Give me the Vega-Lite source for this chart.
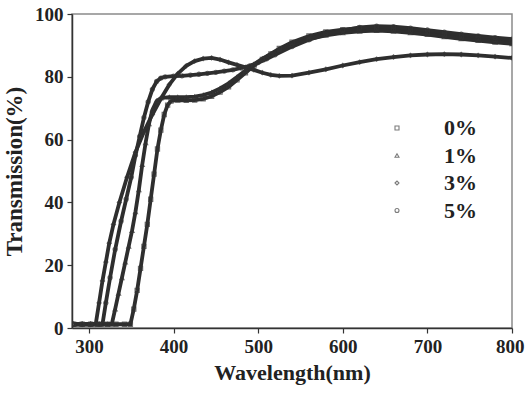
{
  "$schema": "https://vega.github.io/schema/vega-lite/v6.json",
  "autosize": {"type": "none"},
  "width": 440,
  "height": 314,
  "padding": {"left": 72, "top": 14, "right": 13, "bottom": 66},
  "background": "white",
  "config": {
    "view": {"stroke": "#8a8a8a", "strokeWidth": 1.5},
    "axis": {
      "labelFont": "Liberation Serif", "labelFontWeight": "bold", "labelColor": "#222",
      "titleFont": "Liberation Serif", "titleFontWeight": "bold", "titleColor": "#222",
      "domainColor": "#333", "domainWidth": 1.5, "tickColor": "#333", "tickWidth": 1.2, "tickSize": 5,
      "grid": false
    }
  },
  "data": {"values": [
    {"s":"0%","wl":282,"t":1.2},{"s":"0%","wl":292,"t":1.2},{"s":"0%","wl":302,"t":1.2},{"s":"0%","wl":312,"t":1.2},{"s":"0%","wl":322,"t":1.2},{"s":"0%","wl":332,"t":1.2},{"s":"0%","wl":342,"t":1.2},{"s":"0%","wl":349,"t":1.2},
    {"s":"0%","wl":353,"t":6},{"s":"0%","wl":357,"t":12},{"s":"0%","wl":361,"t":19},{"s":"0%","wl":365,"t":26},{"s":"0%","wl":369,"t":33},{"s":"0%","wl":373,"t":41},{"s":"0%","wl":377,"t":49},{"s":"0%","wl":381,"t":57},{"s":"0%","wl":385,"t":63},{"s":"0%","wl":389,"t":68},{"s":"0%","wl":393,"t":71},{"s":"0%","wl":397,"t":72.3},{"s":"0%","wl":405,"t":72.6},{"s":"0%","wl":415,"t":72.5},{"s":"0%","wl":425,"t":72.6},{"s":"0%","wl":435,"t":73},{"s":"0%","wl":445,"t":73.8},{"s":"0%","wl":455,"t":75.1},{"s":"0%","wl":465,"t":76.8},{"s":"0%","wl":475,"t":79},{"s":"0%","wl":485,"t":81.3},{"s":"0%","wl":495,"t":83.5},{"s":"0%","wl":505,"t":85.5},{"s":"0%","wl":515,"t":87.3},{"s":"0%","wl":525,"t":89},{"s":"0%","wl":540,"t":91},{"s":"0%","wl":560,"t":93},{"s":"0%","wl":580,"t":94.3},{"s":"0%","wl":600,"t":95},{"s":"0%","wl":620,"t":95.5},{"s":"0%","wl":640,"t":95.5},{"s":"0%","wl":660,"t":95.2},{"s":"0%","wl":680,"t":94.6},{"s":"0%","wl":700,"t":94},{"s":"0%","wl":720,"t":93.3},{"s":"0%","wl":740,"t":92.7},{"s":"0%","wl":760,"t":92.2},{"s":"0%","wl":780,"t":91.8},{"s":"0%","wl":800,"t":91.4},

    {"s":"1%","wl":282,"t":1.2},{"s":"1%","wl":292,"t":1.2},{"s":"1%","wl":302,"t":1.2},{"s":"1%","wl":312,"t":1.2},{"s":"1%","wl":322,"t":1.2},{"s":"1%","wl":327,"t":1.2},
    {"s":"1%","wl":331,"t":6},{"s":"1%","wl":335,"t":11},{"s":"1%","wl":339,"t":16},{"s":"1%","wl":343,"t":21},{"s":"1%","wl":347,"t":26},{"s":"1%","wl":351,"t":31},{"s":"1%","wl":355,"t":37},{"s":"1%","wl":359,"t":44},{"s":"1%","wl":363,"t":52},{"s":"1%","wl":367,"t":59},{"s":"1%","wl":371,"t":65},{"s":"1%","wl":375,"t":69.5},{"s":"1%","wl":380,"t":72.3},{"s":"1%","wl":385,"t":73.2},{"s":"1%","wl":395,"t":73.5},{"s":"1%","wl":405,"t":73.5},{"s":"1%","wl":415,"t":73.5},{"s":"1%","wl":425,"t":73.7},{"s":"1%","wl":435,"t":74.2},{"s":"1%","wl":445,"t":75},{"s":"1%","wl":455,"t":76.3},{"s":"1%","wl":465,"t":77.9},{"s":"1%","wl":475,"t":79.9},{"s":"1%","wl":485,"t":82},{"s":"1%","wl":495,"t":84},{"s":"1%","wl":505,"t":85.8},{"s":"1%","wl":515,"t":87.3},{"s":"1%","wl":525,"t":88.6},{"s":"1%","wl":540,"t":90.2},{"s":"1%","wl":560,"t":92},{"s":"1%","wl":580,"t":93.2},{"s":"1%","wl":600,"t":94},{"s":"1%","wl":620,"t":94.5},{"s":"1%","wl":640,"t":94.7},{"s":"1%","wl":660,"t":94.5},{"s":"1%","wl":680,"t":94},{"s":"1%","wl":700,"t":93.4},{"s":"1%","wl":720,"t":92.7},{"s":"1%","wl":740,"t":92.1},{"s":"1%","wl":760,"t":91.5},{"s":"1%","wl":780,"t":91},{"s":"1%","wl":800,"t":90.5},

    {"s":"3%","wl":282,"t":1.2},{"s":"3%","wl":292,"t":1.2},{"s":"3%","wl":302,"t":1.2},{"s":"3%","wl":308,"t":1.2},
    {"s":"3%","wl":312,"t":8},{"s":"3%","wl":316,"t":15},{"s":"3%","wl":320,"t":21},{"s":"3%","wl":324,"t":27},{"s":"3%","wl":329,"t":33},{"s":"3%","wl":336,"t":40},{"s":"3%","wl":345,"t":48},{"s":"3%","wl":355,"t":56},{"s":"3%","wl":365,"t":62.5},{"s":"3%","wl":375,"t":68},{"s":"3%","wl":385,"t":73},{"s":"3%","wl":395,"t":77.5},{"s":"3%","wl":405,"t":81},{"s":"3%","wl":415,"t":83.5},{"s":"3%","wl":425,"t":85},{"s":"3%","wl":435,"t":85.8},{"s":"3%","wl":445,"t":86},{"s":"3%","wl":455,"t":85.5},{"s":"3%","wl":465,"t":84.6},{"s":"3%","wl":475,"t":83.8},{"s":"3%","wl":485,"t":83},{"s":"3%","wl":495,"t":82.2},{"s":"3%","wl":505,"t":81.3},{"s":"3%","wl":515,"t":80.6},{"s":"3%","wl":525,"t":80.3},{"s":"3%","wl":540,"t":80.4},{"s":"3%","wl":560,"t":81.3},{"s":"3%","wl":580,"t":82.4},{"s":"3%","wl":600,"t":83.6},{"s":"3%","wl":620,"t":84.7},{"s":"3%","wl":640,"t":85.6},{"s":"3%","wl":660,"t":86.3},{"s":"3%","wl":680,"t":86.8},{"s":"3%","wl":700,"t":87.1},{"s":"3%","wl":720,"t":87.2},{"s":"3%","wl":740,"t":87.1},{"s":"3%","wl":760,"t":86.8},{"s":"3%","wl":780,"t":86.4},{"s":"3%","wl":800,"t":86},

    {"s":"5%","wl":282,"t":1.2},{"s":"5%","wl":292,"t":1.2},{"s":"5%","wl":302,"t":1.2},{"s":"5%","wl":312,"t":1.2},{"s":"5%","wl":316,"t":1.2},
    {"s":"5%","wl":320,"t":8},{"s":"5%","wl":325,"t":16},{"s":"5%","wl":331,"t":25},{"s":"5%","wl":338,"t":34},{"s":"5%","wl":344,"t":41},{"s":"5%","wl":350,"t":48},{"s":"5%","wl":355,"t":55},{"s":"5%","wl":360,"t":61},{"s":"5%","wl":365,"t":67},{"s":"5%","wl":370,"t":72},{"s":"5%","wl":375,"t":76},{"s":"5%","wl":380,"t":78.5},{"s":"5%","wl":385,"t":79.6},{"s":"5%","wl":390,"t":80},{"s":"5%","wl":400,"t":80.2},{"s":"5%","wl":410,"t":80.3},{"s":"5%","wl":420,"t":80.5},{"s":"5%","wl":430,"t":80.8},{"s":"5%","wl":440,"t":81.1},{"s":"5%","wl":450,"t":81.4},{"s":"5%","wl":460,"t":81.8},{"s":"5%","wl":470,"t":82.2},{"s":"5%","wl":480,"t":82.8},{"s":"5%","wl":490,"t":83.5},{"s":"5%","wl":500,"t":84.5},{"s":"5%","wl":510,"t":85.7},{"s":"5%","wl":520,"t":87},{"s":"5%","wl":540,"t":89.6},{"s":"5%","wl":560,"t":91.8},{"s":"5%","wl":580,"t":93.5},{"s":"5%","wl":600,"t":94.8},{"s":"5%","wl":620,"t":95.7},{"s":"5%","wl":640,"t":96.1},{"s":"5%","wl":660,"t":96},{"s":"5%","wl":680,"t":95.5},{"s":"5%","wl":700,"t":94.9},{"s":"5%","wl":720,"t":94.2},{"s":"5%","wl":740,"t":93.6},{"s":"5%","wl":760,"t":93},{"s":"5%","wl":780,"t":92.5},{"s":"5%","wl":800,"t":92}
  ]},
  "encoding": {
    "x": {"field": "wl", "type": "quantitative",
      "scale": {"domain": [280, 800], "nice": false, "zero": false},
      "axis": {"values": [300, 400, 500, 600, 700, 800], "title": "Wavelength(nm)", "labelFontSize": 19, "titleFontSize": 22, "labelPadding": 4, "titlePadding": 6, "labelFlush": true, "labelFlushOffset": 12}},
    "y": {"field": "t", "type": "quantitative",
      "scale": {"domain": [0, 100], "nice": false},
      "axis": {"values": [0, 20, 40, 60, 80, 100], "title": "Transmission(%)", "labelFontSize": 19, "titleFontSize": 23, "labelPadding": 4, "titlePadding": 8}}
  },
  "layer": [
    {
      "mark": {"type": "line", "color": "#2e2e2e", "strokeWidth": 3.8, "clip": true},
      "encoding": {"detail": {"field": "s", "type": "nominal"}}
    },
    {
      "mark": {"type": "point", "filled": false, "color": "#333", "strokeWidth": 1.1, "size": 18, "clip": true},
      "encoding": {
        "shape": {"field": "s", "type": "nominal",
          "scale": {"domain": ["0%", "1%", "3%", "5%"], "range": ["square", "triangle-up", "diamond", "circle"]},
          "legend": {"orient": "none", "legendX": 314, "legendY": 103, "title": null,
            "labelFont": "Liberation Serif", "labelFontWeight": "bold", "labelFontSize": 22, "labelColor": "#222",
            "labelOffset": 36, "rowPadding": 5.5, "padding": 0, "symbolSize": 16, "symbolStrokeColor": "#444", "symbolStrokeWidth": 1.1, "symbolFillColor": "white"}}
      }
    }
  ]
}
